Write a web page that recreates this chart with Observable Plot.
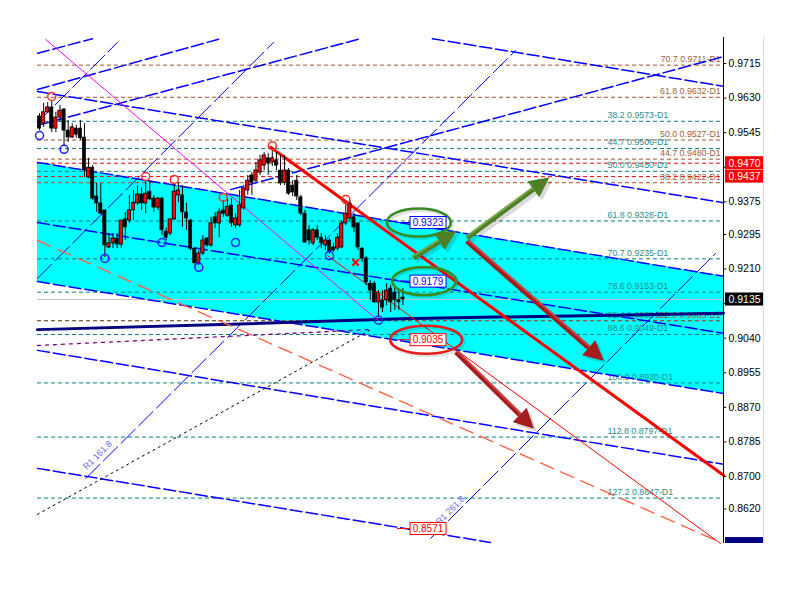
<!DOCTYPE html>
<html><head><meta charset="utf-8">
<script src="https://cdn.jsdelivr.net/npm/d3@7"></script>
<script src="https://cdn.jsdelivr.net/npm/@observablehq/plot@0.6"></script>
<style>html,body{margin:0;padding:0;background:#fff;overflow:hidden;} #chart svg{display:block;}</style>
</head><body>
<div id="chart"></div>
<script>
// ---------- candles (oldest first) ----------
const open  = [0.9585,0.9567,0.9595,0.9607,0.9555,0.9582,0.9602,0.9550,0.9533,0.9555,0.9555,0.9533,0.9435,0.9459,0.9388,0.9371,0.9354,0.9263,0.9273,0.9285,0.9270,0.9332,0.9329,0.9354,0.9371,0.9393,0.9371,0.9400,0.9383,0.9361,0.9383,0.9302,0.9297,0.9332,0.9391,0.9391,0.9349,0.9329,0.9260,0.9224,0.9248,0.9285,0.9268,0.9337,0.9322,0.9354,0.9341,0.9366,0.9317,0.9317,0.9359,0.9403,0.9440,0.9427,0.9447,0.9464,0.9482,0.9472,0.9477,0.9452,0.9422,0.9452,0.9415,0.9427,0.9386,0.9346,0.9305,0.9273,0.9305,0.9287,0.9268,0.9280,0.9263,0.9260,0.9263,0.9322,0.9334,0.9337,0.9322,0.9260,0.9236,0.9174,0.9174,0.9128,0.9133,0.9133,0.9162,0.9152,0.9133,0.9140];
const high  = [0.9592,0.9617,0.9619,0.9624,0.9595,0.9612,0.9604,0.9575,0.9567,0.9563,0.9575,0.9567,0.9482,0.9464,0.9420,0.9420,0.9354,0.9297,0.9297,0.9297,0.9329,0.9349,0.9391,0.9403,0.9415,0.9410,0.9427,0.9427,0.9391,0.9386,0.9386,0.9312,0.9332,0.9420,0.9422,0.9415,0.9371,0.9332,0.9263,0.9255,0.9292,0.9287,0.9337,0.9349,0.9359,0.9378,0.9383,0.9383,0.9346,0.9403,0.9415,0.9440,0.9447,0.9472,0.9489,0.9496,0.9494,0.9506,0.9496,0.9489,0.9489,0.9457,0.9427,0.9440,0.9391,0.9354,0.9317,0.9309,0.9317,0.9297,0.9292,0.9285,0.9273,0.9297,0.9329,0.9371,0.9378,0.9346,0.9324,0.9263,0.9241,0.9182,0.9179,0.9157,0.9157,0.9174,0.9170,0.9162,0.9157,0.9162];
const low   = [0.9550,0.9558,0.9592,0.9545,0.9545,0.9570,0.9513,0.9521,0.9531,0.9531,0.9526,0.9435,0.9432,0.9378,0.9349,0.9344,0.9238,0.9260,0.9260,0.9260,0.9260,0.9280,0.9322,0.9329,0.9366,0.9354,0.9346,0.9378,0.9349,0.9354,0.9292,0.9280,0.9292,0.9329,0.9373,0.9312,0.9305,0.9255,0.9219,0.9219,0.9243,0.9263,0.9263,0.9309,0.9287,0.9337,0.9337,0.9312,0.9309,0.9312,0.9354,0.9391,0.9391,0.9422,0.9440,0.9452,0.9440,0.9462,0.9452,0.9415,0.9415,0.9391,0.9388,0.9378,0.9341,0.9273,0.9268,0.9268,0.9280,0.9260,0.9255,0.9246,0.9251,0.9255,0.9260,0.9317,0.9324,0.9299,0.9255,0.9226,0.9170,0.9133,0.9125,0.9093,0.9103,0.9120,0.9103,0.9108,0.9108,0.9120];
const close = [0.9555,0.9595,0.9607,0.9555,0.9582,0.9599,0.9550,0.9533,0.9558,0.9540,0.9531,0.9452,0.9459,0.9383,0.9371,0.9346,0.9268,0.9273,0.9285,0.9270,0.9329,0.9312,0.9354,0.9373,0.9393,0.9371,0.9395,0.9381,0.9361,0.9383,0.9305,0.9287,0.9332,0.9400,0.9403,0.9349,0.9334,0.9260,0.9224,0.9248,0.9280,0.9268,0.9322,0.9322,0.9349,0.9346,0.9363,0.9322,0.9334,0.9366,0.9408,0.9427,0.9422,0.9452,0.9477,0.9489,0.9469,0.9482,0.9464,0.9420,0.9452,0.9395,0.9398,0.9388,0.9346,0.9275,0.9280,0.9305,0.9287,0.9273,0.9280,0.9251,0.9255,0.9287,0.9322,0.9346,0.9371,0.9312,0.9263,0.9236,0.9177,0.9157,0.9128,0.9150,0.9115,0.9157,0.9128,0.9133,0.9128,0.9135];

// ---------- price axis ----------
const yTicks = [0.9715,0.9630,0.9545,0.9460,0.9375,0.9295,0.9210,0.9125,0.9040,0.8955,0.8870,0.8785,0.8700,0.8620];
const hiddenTickLabels = [0.9460,0.9125];   // covered by price boxes in the reference
const currentPrice = 0.9135;

// ---------- Fibonacci levels ----------
const tealFib  = [["38.2",0.9573],["44.7",0.9506],["50.0",0.9450],["61.8",0.9328],["70.7",0.9235],["78.6",0.9153],["85.4",0.9083],["88.6",0.9049],["100.0",0.8930],["112.8",0.8797],["127.2",0.8647]];
const brownFib = [["70.7",0.9711],["61.8",0.9632],["50.0",0.9527],["44.7",0.9480],["38.2",0.9422],["100.0",0.9083]];
const redLevels = [0.9470, 0.9437];

// ---------- trend lines: [bar index, price] ----------
const channelTop = [[-0.5,0.9472],[167.5,0.9192]];
const channelBot = [[-0.5,0.9179],[167.5,0.8904]];
const lineD0 = [[96.2,0.9776],[167.5,0.9659]];
const lineD1 = [[-0.5,0.9646],[167.5,0.9373]];
const lineD4 = [[-0.5,0.9324],[167.5,0.9052]];
const lineD7 = [[-0.5,0.9010],[167.5,0.8730]];
const lineD8 = [[-0.5,0.8720],[110.4,0.8538]];
const lineG0 = [[-0.5,0.9740],[13.0,0.9776]];
const lineG1 = [[-0.5,0.9651],[44.3,0.9776]];
const lineG2 = [[-0.5,0.9563],[78.6,0.9776]];
const lineG3 = [[46.8,0.9405],[167.5,0.9732]];
const rayA   = [[-0.5,0.9570],[19.1,0.9767]];
const rayB   = [[-0.5,0.9187],[57.3,0.9767]];
const rayR1  = [[11.3,0.8695],[116.6,0.9747]];
const rayR2  = [[95.8,0.8548],[165.5,0.9248]];
const redThick = [[56.6,0.9509],[167.5,0.8703]];
const redThin  = [[70.5,0.9243],[166.8,0.8535]];
const salmonLine = [[-0.5,0.9280],[166.3,0.8540]];
const magentaLine = [[1.5,0.9774],[83.0,0.9083]];
const navyLine = [[-0.5,0.9061],[46.8,0.9074],[88.4,0.9088],[137.4,0.9096],[167.5,0.9101]];
const purpleDots = [[-0.5,0.9022],[80.8,0.9061]];
const blackDots = [[-0.5,0.8607],[80.8,0.9059]];

// ---------- fractals ----------
const upFractals = [[3,0.9634],[26,0.9437],[33,0.9430],[45,0.9386],[57,0.9513],[75,0.9381]];
const downFractals = [[0,0.9538],[6,0.9504],[16,0.9236],[30,0.9275],[39,0.9214],[48,0.9275],[71,0.9243],[83,0.9084]];

// ---------- annotations ----------
const targetLabels = [[90.85,0.9323,"up"],[90.85,0.9179,"up"],[90.85,0.9035,"down"],[90.85,0.8571,"down"]];
const ellipseCenters = [[93.0,0.9323,"up"],[94.3,0.9179,"up"],[94.8,0.9035,"down"]];
const greenArrows = [[91.6,0.9236,102.2,0.9302],[104.8,0.9285,125.0,0.9434]];
const redArrows = [[104.8,0.9277,138.3,0.8983],[102.1,0.9005,121.2,0.8816]];
const rayLabels = [[14.2,0.8752,"R1 161.8"],[100.6,0.8617,"R1 261.8"]];
const crossMark = [[77.4,0.9226]];
const axisBoxes = [[0.9470,"#ff0000"],[0.9437,"#ff0000"],[0.9135,"#000000"],[0.8534,"#000080"]];

// ---------- build ----------
const candles = open.map((o,i)=>({k:i,o,h:high[i],l:low[i],c:close[i]}));
const bulls = candles.filter(d=>d.c>=d.o), bears = candles.filter(d=>d.c<d.o);
const channel = [{k:channelTop[0][0],top:channelTop[0][1],bot:channelBot[0][1]},{k:channelTop[1][0],top:channelTop[1][1],bot:channelBot[1][1]}];
const FONT = "'Liberation Sans', Arial, sans-serif";
const X_END = 167.5;
const Y_DOMAIN = [0.85354, 0.97789];
const BOX_HALF = 0.0016;  // half a price label box, in price units

const thickDash = {stroke:"#0000ff", strokeWidth:1.5, strokeDasharray:"12,4"};
const thinDash = {stroke:"#0000ff", strokeWidth:1, strokeDasharray:"20,5"};

function ellipsesMark(index, scales) {
  const g = d3.create("svg:g");
  for (const [k,p,kind] of ellipseCenters) {
    const col = kind==="up" ? "#3a8a22" : "#e41c1c";
    const cx = scales.x(k), cy = scales.y(p), rx = kind==="up"?32:36;
    g.append("ellipse").attr("cx",cx+2).attr("cy",cy+2).attr("rx",rx).attr("ry",14)
      .attr("fill","none").attr("stroke","#000").attr("stroke-opacity",0.12).attr("stroke-width",3);
    g.append("ellipse").attr("cx",cx).attr("cy",cy).attr("rx",rx).attr("ry",14)
      .attr("fill","none").attr("stroke",col).attr("stroke-width",2.6);
  }
  return g.node();
}
function labelsMark(index, scales) {
  const g = d3.create("svg:g");
  for (const [k,p,kind] of targetLabels) {
    const col = kind==="up" ? "#0000ff" : "#ff0000";
    const x = scales.x(k), y = scales.y(p);
    g.append("line").attr("x1",x-13).attr("x2",x).attr("y1",y).attr("y2",y).attr("stroke",col);
    g.append("rect").attr("x",x).attr("y",y-6).attr("width",36).attr("height",12).attr("fill","#fff").attr("stroke",col);
    g.append("text").attr("x",x+18).attr("y",y).attr("dy","0.35em").attr("text-anchor","middle").attr("fill",col)
      .attr("font-family",FONT).attr("font-size",10).text(p.toFixed(4));
  }
  return g.node();
}
function arrowsMark(list, col, shade) {
  return (index, scales) => {
    const g = d3.create("svg:g");
    for (const [k1,p1,k2,p2] of list) {
      const x1 = scales.x(k1), y1 = scales.y(p1), x2 = scales.x(k2), y2 = scales.y(p2);
      const len = Math.hypot(x2-x1, y2-y1), ux = (x2-x1)/len, uy = (y2-y1)/len, nx = -uy, ny = ux;
      const L = 20, W = 10, bx = x2-ux*L, by = y2-uy*L;
      for (const [off, c, op] of [[3, "#000", 0.15], [0, col, 1]]) {
        g.append("line").attr("x1",x1+off).attr("y1",y1+off).attr("x2",bx+off).attr("y2",by+off)
          .attr("stroke",c).attr("stroke-opacity",op).attr("stroke-width",5);
        g.append("polygon").attr("points",`${x2+off},${y2+off} ${bx+nx*W+off},${by+ny*W+off} ${bx-nx*W+off},${by-ny*W+off}`)
          .attr("fill",c).attr("fill-opacity",op);
      }
      g.append("line").attr("x1",x1-nx*1.5).attr("y1",y1-ny*1.5).attr("x2",bx-nx*1.5).attr("y2",by-ny*1.5)
        .attr("stroke",shade).attr("stroke-width",1.5);
    }
    return g.node();
  };
}

const chart = Plot.plot({
  width: 800, height: 600,
  marginLeft: 37, marginRight: 77, marginTop: 37, marginBottom: 57,
  style: {fontFamily: FONT, fontSize: "10px", background: "#fff", color: "#000", overflow: "visible"},
  x: {domain: [-0.5, X_END], axis: null},
  y: {domain: Y_DOMAIN, axis: null},
  marks: [
    Plot.areaY(channel, {x:"k", y1:"bot", y2:"top", fill:"#00ffff"}),
    Plot.ruleY([currentPrice], {stroke:"#c4c4c4"}),
    Plot.ruleY(tealFib, {y:d=>d[1], stroke:"#008080", strokeDasharray:"4,3"}),
    Plot.ruleY(brownFib, {y:d=>d[1], stroke:"#a0522d", strokeDasharray:"4,3"}),
    Plot.ruleY(redLevels, {stroke:"#ff0000", strokeDasharray:"4,3"}),
    Plot.text(tealFib, {x:()=>139.1, y:d=>d[1], text:d=>`${d[0]} ${d[1].toFixed(4)}-D1`, textAnchor:"start", dy:-6, fill:"#2a8c8c", fontSize:8.8}),
    Plot.text(brownFib, {x:()=>166.8, y:d=>d[1], text:d=>`${d[0]} ${d[1].toFixed(4)}-D1`, textAnchor:"end", dy:-6, fill:"#a0603a", fontSize:8.8}),
    Plot.line(channelTop, thickDash),
    Plot.line(channelBot, thickDash),
    Plot.line(lineD0, thickDash),
    Plot.line(lineD1, thickDash),
    Plot.line(lineD4, thickDash),
    Plot.line(lineD7, thickDash),
    Plot.line(lineD8, thickDash),
    Plot.line(lineG0, thickDash),
    Plot.line(lineG1, thickDash),
    Plot.line(lineG2, thickDash),
    Plot.line(lineG3, thickDash),
    Plot.line(rayA, thinDash),
    Plot.line(rayB, thinDash),
    Plot.line(rayR1, thinDash),
    Plot.line(rayR2, thinDash),
    Plot.line(navyLine, {stroke:"#000080", strokeWidth:3}),
    Plot.line(purpleDots, {stroke:"#800080", strokeWidth:1.3, strokeDasharray:"3,5"}),
    Plot.line(blackDots, {stroke:"#000", strokeWidth:1, strokeDasharray:"2,4"}),
    Plot.line(salmonLine, {stroke:"#ff6347", strokeWidth:1.4, strokeDasharray:"14,8"}),
    Plot.line(magentaLine, {stroke:"#ff00ff", strokeWidth:1}),
    Plot.line(redThin, {stroke:"#ff0000", strokeWidth:1}),
    Plot.line(redThick, {stroke:"#ff0000", strokeWidth:3}),
    Plot.text(rayLabels, {x:d=>d[0], y:d=>d[1], text:d=>d[2], rotate:-45, fill:"#6b6bf0", fontSize:9}),
    Plot.ruleX(candles, {x:"k", y1:"l", y2:"h", stroke:"#000"}),
    Plot.rect(bears, {x1:d=>d.k-0.4, x2:d=>d.k+0.4, y1:"o", y2:"c", fill:"#000", stroke:"#000", strokeWidth:0.6}),
    Plot.rect(bulls, {x1:d=>d.k-0.4, x2:d=>d.k+0.4, y1:"o", y2:"c", fill:"#ff0000", stroke:"#000", strokeWidth:0.8}),
    Plot.dot(upFractals, {x:d=>d[0], y:d=>d[1], r:4, stroke:"#ff3030", fill:"none"}),
    Plot.dot(downFractals, {x:d=>d[0], y:d=>d[1], r:4, stroke:"#2020ff", fill:"none"}),
    Plot.dot(crossMark, {x:d=>d[0], y:d=>d[1], symbol:"times", r:3, stroke:"#ff0000", strokeWidth:2}),
    ellipsesMark,
    labelsMark,
    arrowsMark(greenArrows, "#4f7f26", "#7fae4f"),
    arrowsMark(redArrows, "#a61b1b", "#d04a4a"),
    // price axis
    Plot.ruleX([X_END], {stroke:"#000"}),
    Plot.ruleY(yTicks, {x1:()=>X_END, x2:()=>X_END+0.8, y:d=>d, stroke:"#000"}),
    Plot.text(yTicks.filter(t=>!hiddenTickLabels.includes(t)), {x:()=>X_END, y:d=>d, dx:5, text:d=>d.toFixed(4), textAnchor:"start", fill:"#000", fontSize:10.5}),
    Plot.rect(axisBoxes, {x1:()=>X_END+0.5, x2:()=>X_END+9.8,
      y1:d=>Math.max(d[0]-BOX_HALF, Y_DOMAIN[0]), y2:d=>d[0]+BOX_HALF, fill:d=>d[1]}),
    Plot.text(axisBoxes.filter(d=>d[0]-BOX_HALF>=Y_DOMAIN[0]), {x:()=>X_END, y:d=>d[0], dx:5, text:d=>d[0].toFixed(4),
      textAnchor:"start", fill:"#fff", fontSize:10.5}),
    Plot.ruleX([X_END+9.8], {stroke:"#dcdcdc"})
  ]
});
document.getElementById("chart").appendChild(chart);
</script>
</body></html>
